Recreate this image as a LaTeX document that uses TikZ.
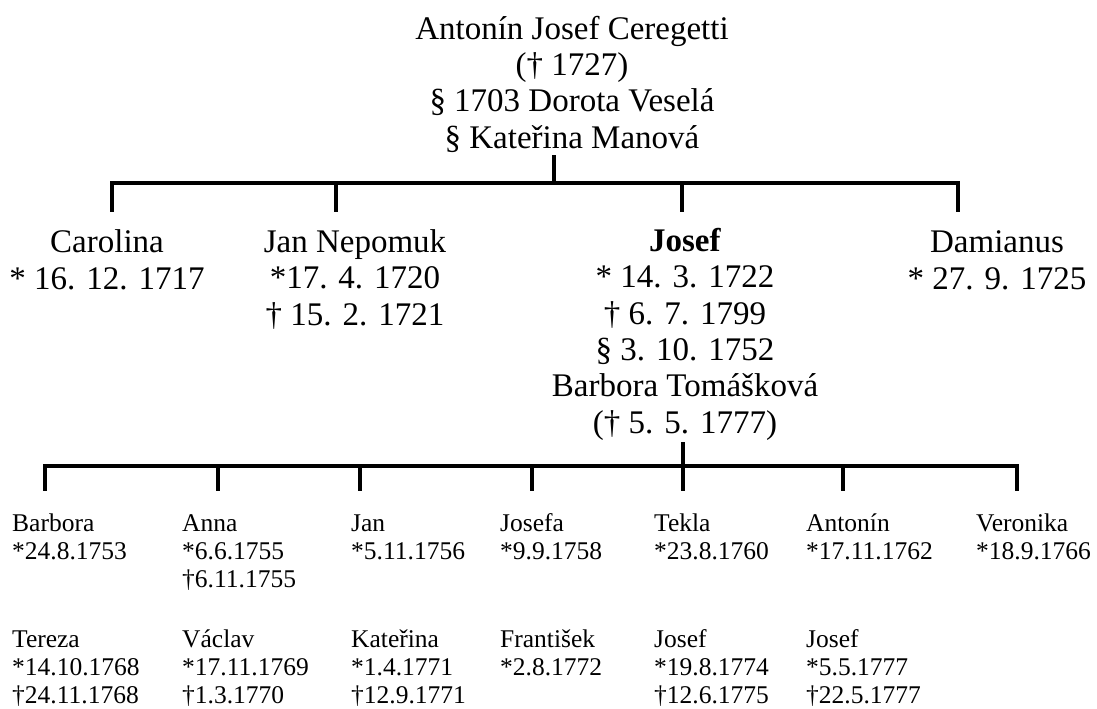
\documentclass[tikz,border=0pt]{standalone}
\usepackage{fontspec}
\setmainfont{Liberation Serif}
\begin{document}
\begin{tikzpicture}[x=1pt,y=-1pt,
  big/.style={font=\fontsize{33}{36.3}\selectfont, align=center, inner sep=0pt, anchor=base},
  small/.style={font=\fontsize{25.5}{28}\selectfont, align=left, inner sep=0pt, anchor=base west},
  tree/.style={line width=3.4pt, line join=miter, line cap=rect}]
\useasboundingbox (0,0) rectangle (1097,709);

% generation 1 (anchor = baseline of last line)
\node[big] (root) at (572,148) {Antonín Josef Ceregetti\\(† 1727)\\§ 1703 Dorota Veselá\\§ Kateřina Manová};

% generation 2
\node[big] (carolina) at (107,289) {Carolina\\* 16. 12. 1717};
\node[big] (jann) at (355,325) {Jan Nepomuk\\*17. 4. 1720\\† 15. 2. 1721};
\node[big] (josef) at (685,433) {\textbf{Josef}\\* 14. 3. 1722\\† 6. 7. 1799\\§ 3. 10. 1752\\Barbora Tomášková\\(† 5. 5. 1777)};
\node[big] (damianus) at (997,289) {Damianus\\* 27. 9. 1725};

% generation 3, row 1
\node[small] (barbora) at (12,559) {Barbora\\*24.8.1753};
\node[small] (anna) at (182,587) {Anna\\*6.6.1755\\†6.11.1755};
\node[small] (jan) at (351,559) {Jan\\*5.11.1756};
\node[small] (josefa) at (500,559) {Josefa\\*9.9.1758};
\node[small] (tekla) at (654,559) {Tekla\\*23.8.1760};
\node[small] (antonin) at (806,559) {Antonín\\*17.11.1762};
\node[small] (veronika) at (976,559) {Veronika\\*18.9.1766};
% generation 3, row 2
\node[small] (tereza) at (12,703) {Tereza\\*14.10.1768\\†24.11.1768};
\node[small] (vaclav) at (182,703) {Václav\\*17.11.1769\\†1.3.1770};
\node[small] (katerina) at (351,703) {Kateřina\\*1.4.1771\\†12.9.1771};
\node[small] (frantisek) at (500,675) {František\\*2.8.1772};
\node[small] (josefb) at (654,703) {Josef\\*19.8.1774\\†12.6.1775};
\node[small] (josefc) at (806,703) {Josef\\*5.5.1777\\†22.5.1777};

% connector points, generation 1 -> 2
\coordinate (rs) at (554,157);
\coordinate (rb) at (554,183);
\coordinate (c1t) at (112,183);
\coordinate (c1b) at (112,210);
\coordinate (c2t) at (336,183);
\coordinate (c2b) at (336,210);
\coordinate (c3t) at (682,183);
\coordinate (c3b) at (682,210);
\coordinate (c4t) at (958,183);
\coordinate (c4b) at (958,210);
\draw[tree] (rs) -- (rb);
\draw[tree] (c1b) -- (c1t) -- (c4t) -- (c4b);
\draw[tree] (c2t) -- (c2b);
\draw[tree] (c3t) -- (c3b);

% connector points, generation 2 -> 3
\coordinate (js) at (683,444);
\coordinate (k1t) at (45,466);
\coordinate (k1b) at (45,489);
\coordinate (k2t) at (218,466);
\coordinate (k2b) at (218,489);
\coordinate (k3t) at (360,466);
\coordinate (k3b) at (360,489);
\coordinate (k4t) at (532,466);
\coordinate (k4b) at (532,489);
\coordinate (k5b) at (683,489);
\coordinate (k6t) at (843,466);
\coordinate (k6b) at (843,489);
\coordinate (k7t) at (1017,466);
\coordinate (k7b) at (1017,489);
\draw[tree] (js) -- (k5b);
\draw[tree] (k1b) -- (k1t) -- (k7t) -- (k7b);
\draw[tree] (k2t) -- (k2b);
\draw[tree] (k3t) -- (k3b);
\draw[tree] (k4t) -- (k4b);
\draw[tree] (k6t) -- (k6b);
\end{tikzpicture}
\end{document}
